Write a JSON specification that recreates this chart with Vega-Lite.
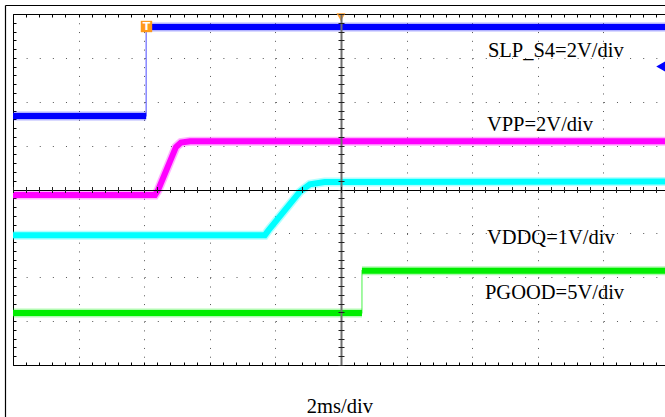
{
  "$schema": "https://vega.github.io/schema/vega-lite/v6.json",
  "width": 652,
  "height": 351,
  "autosize": {"type": "none"},
  "padding": {"left": 13, "top": 14, "right": 0, "bottom": 52},
  "background": "white",
  "config": {
    "view": {"stroke": null},
    "axis": {"labels": false, "title": null, "domain": false, "ticks": false, "grid": false, "domainColor": "#000", "tickColor": "#000", "domainWidth": 1}
  },
  "datasets": {
    "traces": [
      {"ch": "SLP_S4", "seg": "lo", "t": 0, "v": 1.675},
      {"ch": "SLP_S4", "seg": "lo", "t": 4.06, "v": 1.675},
      {"ch": "SLP_S4", "seg": "hi", "t": 4.06, "v": 3.704},
      {"ch": "SLP_S4", "seg": "hi", "t": 19.88, "v": 3.704},
      {"ch": "VPP", "seg": "all", "t": 0, "v": -0.125},
      {"ch": "VPP", "seg": "all", "t": 4.33, "v": -0.125},
      {"ch": "VPP", "seg": "all", "t": 4.42, "v": -0.02},
      {"ch": "VPP", "seg": "all", "t": 4.97, "v": 0.97},
      {"ch": "VPP", "seg": "all", "t": 5.12, "v": 1.07},
      {"ch": "VPP", "seg": "all", "t": 5.4, "v": 1.1},
      {"ch": "VPP", "seg": "all", "t": 19.88, "v": 1.1},
      {"ch": "VDDQ", "seg": "all", "t": 0, "v": -1.04},
      {"ch": "VDDQ", "seg": "all", "t": 7.68, "v": -1.04},
      {"ch": "VDDQ", "seg": "all", "t": 7.8, "v": -0.92},
      {"ch": "VDDQ", "seg": "all", "t": 8.75, "v": -0.05},
      {"ch": "VDDQ", "seg": "all", "t": 9.05, "v": 0.12},
      {"ch": "VDDQ", "seg": "all", "t": 9.5, "v": 0.17},
      {"ch": "VDDQ", "seg": "all", "t": 19.88, "v": 0.18},
      {"ch": "PGOOD", "seg": "lo", "t": 0, "v": -2.815},
      {"ch": "PGOOD", "seg": "lo", "t": 10.64, "v": -2.815},
      {"ch": "PGOOD", "seg": "hi", "t": 10.64, "v": -1.851},
      {"ch": "PGOOD", "seg": "hi", "t": 19.88, "v": -1.851}
    ],
    "labels": [
      {"label": "SLP_S4=2V/div", "t": 14.48, "v": 3.02},
      {"label": "VPP=2V/div", "t": 14.45, "v": 1.333},
      {"label": "VDDQ=1V/div", "t": 14.45, "v": -1.242},
      {"label": "PGOOD=5V/div", "t": 14.39, "v": -2.496},
      {"label": "2ms/div", "t": 8.96, "v": -5.094}
    ],
    "markers": [
      {"m": "trig", "t": 4.07, "v": 3.715},
      {"m": "top", "t": 10, "v": 3.93},
      {"m": "ch1", "t": 19.8, "v": 2.803}
    ],
    "frame": [{"edge": "outer"}]
  },
  "resolve": {"axis": {"x": "independent", "y": "independent"}},
  "layer": [
    {
      "data": {"name": "traces"},
      "mark": {"type": "line", "strokeWidth": 9, "opacity": 0.3, "strokeCap": "butt"},
      "encoding": {
        "x": {"field": "t", "type": "quantitative", "scale": {"domain": [0, 19.88], "nice": false, "zero": false},
          "axis": {"orient": "bottom", "grid": true, "values": [2, 4, 6, 8, 12, 14, 16, 18], "gridDash": [1, 7.775], "gridColor": "#555", "gridWidth": 1, "gridOpacity": 1}},
        "y": {"field": "v", "type": "quantitative", "scale": {"domain": [-4, 4], "nice": false, "zero": false},
          "axis": {"orient": "left", "grid": true, "values": [-3, -2, -1, 1, 2, 3], "gridDash": [1, 12.119], "gridColor": "#555", "gridWidth": 1, "gridOpacity": 1}},
        "color": {"field": "ch", "type": "nominal", "scale": {"domain": ["SLP_S4", "VPP", "VDDQ", "PGOOD"], "range": ["#0000ff", "#ff00ff", "#00ffff", "#00ee00"]}, "legend": null},
        "detail": {"field": "seg"},
        "order": {"value": null}
      }
    },
    {
      "data": {"name": "traces"},
      "mark": {"type": "line", "strokeWidth": 6, "strokeCap": "butt"},
      "encoding": {
        "x": {"field": "t", "type": "quantitative", "scale": {"domain": [0, 19.88], "nice": false, "zero": false},
          "axis": {"orient": "bottom", "domain": true, "ticks": true, "tickSize": -3, "values": [0,0.4,0.8,1.2,1.6,2,2.4,2.8,3.2,3.6,4,4.4,4.8,5.2,5.6,6,6.4,6.8,7.2,7.6,8,8.4,8.8,9.2,9.6,10,10.4,10.8,11.2,11.6,12,12.4,12.8,13.2,13.6,14,14.4,14.8,15.2,15.6,16,16.4,16.8,17.2,17.6,18,18.4,18.8,19.2,19.6]}},
        "y": {"field": "v", "type": "quantitative", "scale": {"domain": [-4, 4], "nice": false, "zero": false},
          "axis": {"orient": "left", "domain": true, "ticks": true, "tickSize": -3, "values": [-4,-3.8,-3.6,-3.4,-3.2,-3,-2.8,-2.6,-2.4,-2.2,-2,-1.8,-1.6,-1.4,-1.2,-1,-0.8,-0.6,-0.4,-0.2,0,0.2,0.4,0.6,0.8,1,1.2,1.4,1.6,1.8,2,2.2,2.4,2.6,2.8,3,3.2,3.4,3.6,3.8,4]}},
        "color": {"field": "ch", "type": "nominal", "scale": {"domain": ["SLP_S4", "VPP", "VDDQ", "PGOOD"], "range": ["#0000ff", "#ff00ff", "#00ffff", "#00ee00"]}, "legend": null},
        "detail": {"field": "seg"},
        "order": {"value": null}
      }
    },
    {
      "data": {"name": "traces"},
      "mark": {"type": "line", "strokeWidth": 1.2, "opacity": 0.6},
      "encoding": {
        "x": {"field": "t", "type": "quantitative", "scale": {"domain": [0, 19.88], "nice": false, "zero": false},
          "axis": {"orient": "top", "domain": true, "ticks": true, "tickSize": -3, "values": [0,0.4,0.8,1.2,1.6,2,2.4,2.8,3.2,3.6,4,4.4,4.8,5.2,5.6,6,6.4,6.8,7.2,7.6,8,8.4,8.8,9.2,9.6,10,10.4,10.8,11.2,11.6,12,12.4,12.8,13.2,13.6,14,14.4,14.8,15.2,15.6,16,16.4,16.8,17.2,17.6,18,18.4,18.8,19.2,19.6]}},
        "y": {"field": "v", "type": "quantitative", "scale": {"domain": [-4, 4], "nice": false, "zero": false},
          "axis": {"orient": "left", "grid": true, "values": [0], "gridColor": "#000", "gridWidth": 1, "gridOpacity": 1, "zindex": 1}},
        "color": {"field": "ch", "type": "nominal", "scale": {"domain": ["SLP_S4", "VPP", "VDDQ", "PGOOD"], "range": ["#0000ff", "#ff00ff", "#00ffff", "#00ee00"]}, "legend": null},
        "order": {"value": null}
      }
    },
    {
      "data": {"name": "labels"},
      "mark": {"type": "text", "align": "left", "baseline": "alphabetic", "font": "Liberation Serif", "fontSize": 20.5, "color": "#000"},
      "encoding": {
        "x": {"field": "t", "type": "quantitative", "scale": {"domain": [0, 19.88], "nice": false, "zero": false},
          "axis": {"orient": "bottom", "grid": true, "values": [10], "gridColor": "#6e6e6e", "gridWidth": 2, "gridOpacity": 1, "zindex": 1}},
        "y": {"field": "v", "type": "quantitative", "scale": {"domain": [-4, 4], "nice": false, "zero": false},
          "axis": {"orient": "left", "offset": -331, "ticks": true, "tickSize": 6, "tickColor": "#222", "zindex": 1, "values": [-4,-3.8,-3.6,-3.4,-3.2,-3,-2.8,-2.6,-2.4,-2.2,-2,-1.8,-1.6,-1.4,-1.2,-1,-0.8,-0.6,-0.4,-0.2,0,0.2,0.4,0.6,0.8,1,1.2,1.4,1.6,1.8,2,2.2,2.4,2.6,2.8,3,3.2,3.4,3.6,3.8,4]}},
        "text": {"field": "label"}
      }
    },
    {
      "data": {"name": "markers"},
      "transform": [{"filter": "datum.m === 'trig'"}],
      "mark": {"type": "point", "shape": "square", "filled": true, "color": "#ff9a1a", "opacity": 1, "size": 130},
      "encoding": {
        "x": {"field": "t", "type": "quantitative", "scale": {"domain": [0, 19.88], "nice": false, "zero": false},
          "axis": {"orient": "bottom", "offset": -178.5, "ticks": true, "tickSize": 6, "tickColor": "#222", "zindex": 1, "values": [0,0.4,0.8,1.2,1.6,2,2.4,2.8,3.2,3.6,4,4.4,4.8,5.2,5.6,6,6.4,6.8,7.2,7.6,8,8.4,8.8,9.2,9.6,10,10.4,10.8,11.2,11.6,12,12.4,12.8,13.2,13.6,14,14.4,14.8,15.2,15.6,16,16.4,16.8,17.2,17.6,18,18.4,18.8,19.2,19.6]}},
        "y": {"field": "v", "type": "quantitative", "scale": {"domain": [-4, 4], "nice": false, "zero": false}, "axis": null}
      }
    },
    {
      "data": {"name": "markers"},
      "transform": [{"filter": "datum.m === 'trig'"}],
      "mark": {"type": "text", "text": "T", "font": "DejaVu Sans", "fontWeight": "bold", "fontSize": 11, "color": "white", "baseline": "middle", "align": "center"},
      "encoding": {
        "x": {"field": "t", "type": "quantitative", "scale": {"domain": [0, 19.88], "nice": false, "zero": false}, "axis": null},
        "y": {"field": "v", "type": "quantitative", "scale": {"domain": [-4, 4], "nice": false, "zero": false}, "axis": null}
      }
    },
    {
      "data": {"name": "markers"},
      "transform": [{"filter": "datum.m === 'top'"}],
      "mark": {"type": "point", "shape": "triangle-down", "filled": true, "color": "#ffa030", "opacity": 1, "size": 80},
      "encoding": {
        "x": {"field": "t", "type": "quantitative", "scale": {"domain": [0, 19.88], "nice": false, "zero": false}, "axis": null},
        "y": {"field": "v", "type": "quantitative", "scale": {"domain": [-4, 4], "nice": false, "zero": false}, "axis": null}
      }
    },
    {
      "data": {"name": "markers"},
      "transform": [{"filter": "datum.m === 'ch1'"}],
      "mark": {"type": "point", "shape": "triangle-left", "filled": true, "color": "#0000ff", "opacity": 1, "size": 200},
      "encoding": {
        "x": {"field": "t", "type": "quantitative", "scale": {"domain": [0, 19.88], "nice": false, "zero": false}, "axis": null},
        "y": {"field": "v", "type": "quantitative", "scale": {"domain": [-4, 4], "nice": false, "zero": false}, "axis": null}
      }
    },
    {
      "data": {"name": "frame"},
      "mark": {"type": "rule", "color": "#000", "strokeWidth": 1.2},
      "encoding": {
        "x": {"datum": -0.2287, "type": "quantitative", "scale": {"domain": [0, 19.88], "nice": false, "zero": false}, "axis": null},
        "y": {"datum": 4.194, "type": "quantitative", "scale": {"domain": [-4, 4], "nice": false, "zero": false}, "axis": null},
        "y2": {"datum": -5.4}
      }
    },
    {
      "data": {"name": "frame"},
      "mark": {"type": "rule", "color": "#000", "strokeWidth": 1.2},
      "encoding": {
        "x": {"datum": -0.2287, "type": "quantitative", "scale": {"domain": [0, 19.88], "nice": false, "zero": false}, "axis": null},
        "x2": {"datum": 19.88},
        "y": {"datum": 4.194, "type": "quantitative", "scale": {"domain": [-4, 4], "nice": false, "zero": false}, "axis": null}
      }
    }
  ]
}
